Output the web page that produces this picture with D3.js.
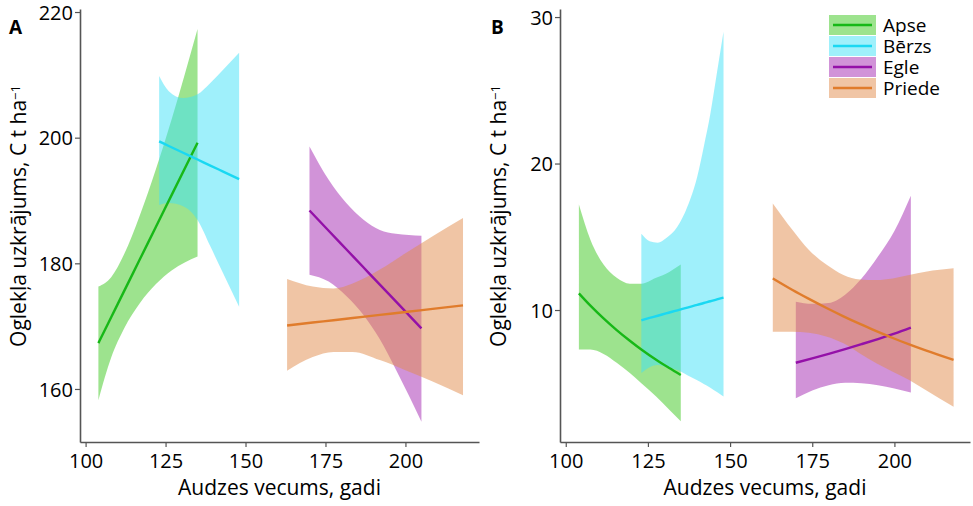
<!DOCTYPE html>
<html><head><meta charset="utf-8">
<script src="https://cdn.jsdelivr.net/npm/d3@7"></script>
<style>
body{margin:0;background:#fff;}
svg{display:block;font-family:"Open Sans",sans-serif;}
</style></head><body>
<svg id="chart" width="973" height="506"></svg>
<script>
const ageTicks = [100,125,150,175,200];
const carbonTicksA = [160,180,200,220];
const carbonTicksB = [10,20,30];
const species = ["Apse","Bērzs","Egle","Priede"];
const lineColors = ["#17b817","#1ad8f2","#9410a8","#e07c2c"];
const fillColors = ["rgba(60,200,30,0.5)","rgba(64,225,248,0.5)","rgba(163,40,177,0.5)","rgba(225,140,75,0.5)"];

// Panel A
const apseA_age = [104,108,112,117,122,127,135];
const apseA_fit = [167.3,171.42,175.53,180.68,185.82,190.97,199.2];
const apseA_lo  = [158.2,165.0,169.6,173.7,176.7,178.9,181.1];
const apseA_hi  = [176.3,177.8,181.4,187.7,195.0,203.1,217.3];

const berzsA_age = [123,126,130.5,135,139,143,148];
const berzsA_fit = [199.4,198.68,197.6,196.52,195.56,194.6,193.4];
const berzsA_lo  = [189.3,189.6,189.1,186.9,182.7,178.4,173.1];
const berzsA_hi  = [209.8,207.4,206.3,206.9,208.7,210.8,213.5];

const egleA_age = [170,176,181.5,187,192,197,205];
const egleA_fit = [188.4,185.19,182.24,179.29,176.61,173.94,169.65];
const egleA_lo  = [178.2,177.1,174.8,171.7,167.9,163.1,154.8];
const egleA_hi  = [198.6,193.3,189.6,186.9,185.3,184.7,184.4];

const priedeA_age = [163,171,177.5,183.5,192,200,208.5,218];
const priedeA_fit = [170.1,170.57,170.94,171.29,171.79,172.25,172.75,173.3];
const priedeA_lo  = [162.9,165.1,165.9,165.9,164.6,163.0,161.2,159.0];
const priedeA_hi  = [177.5,176.3,176.0,176.8,179.0,181.6,184.3,187.2];

// Panel B
const apseB_age = [104,107.5,111.5,115.5,119.5,123,127.5,131.5,135];
const apseB_fit = [11.14,10.3,9.43,8.63,7.9,7.3,6.6,6.04,5.57];
const apseB_lo  = [7.3,7.3,7.0,6.4,5.7,5.0,4.1,3.2,2.4];
const apseB_hi  = [17.2,14.8,13.1,12.2,11.8,11.8,12.2,12.6,13.1];

const berzsB_age = [123,125.5,128,130.5,134,137,140,142,144,146,148];
const berzsB_fit = [9.3,9.46,9.61,9.77,9.98,10.17,10.35,10.48,10.6,10.73,10.85];
const berzsB_lo  = [5.7,6.1,6.25,6.1,5.9,5.55,5.2,4.95,4.7,4.4,4.1];
const berzsB_hi  = [15.2,14.7,14.6,14.9,15.7,17.05,19.1,21.15,23.4,26.2,29.0];

const egleB_age = [170,175,180,185,190,195,200,205];
const egleB_fit = [6.4,6.7,7.01,7.33,7.67,8.02,8.39,8.8];
const egleB_lo  = [3.97,4.5,4.86,5.03,5.0,4.87,4.65,4.37];
const egleB_hi  = [10.57,10.42,10.48,11.05,12.15,13.65,15.4,17.8];

const priedeB_age = [163,169,174,179.5,184.5,189.5,194.5,199.5,204.5,209.5,218];
const priedeB_fit = [12.16,11.37,10.76,10.12,9.57,9.05,8.56,8.09,7.65,7.24,6.59];
const priedeB_lo  = [8.52,8.52,8.45,8.18,7.73,7.04,6.36,5.79,5.22,4.54,3.4];
const priedeB_hi  = [17.28,15.46,14.1,13.07,12.39,12.09,12.05,12.16,12.39,12.62,12.85];

function build(ages, fits, los, his){
  return ages.map((a,i)=>({age:a, fit:fits[i], lo:los[i], hi:his[i]}));
}
const panelAData = [
  build(apseA_age,apseA_fit,apseA_lo,apseA_hi),
  build(berzsA_age,berzsA_fit,berzsA_lo,berzsA_hi),
  build(egleA_age,egleA_fit,egleA_lo,egleA_hi),
  build(priedeA_age,priedeA_fit,priedeA_lo,priedeA_hi)
];
const panelBData = [
  build(apseB_age,apseB_fit,apseB_lo,apseB_hi),
  build(berzsB_age,berzsB_fit,berzsB_lo,berzsB_hi),
  build(egleB_age,egleB_fit,egleB_lo,egleB_hi),
  build(priedeB_age,priedeB_fit,priedeB_lo,priedeB_hi)
];

const svg = d3.select("#chart");
const axisColor = "#555";

function panel(cfg){
  const x = d3.scaleLinear().domain([98.25,223]).range([cfg.x0, cfg.x1]);
  const y = d3.scaleLinear().domain(cfg.ydom).range([442, 9]);
  const g = svg.append("g");

  const area = d3.area().curve(d3.curveMonotoneX)
    .x(d=>x(d.age)).y0(d=>y(d.lo)).y1(d=>y(d.hi));
  const line = d3.line().curve(d3.curveMonotoneX)
    .x(d=>x(d.age)).y(d=>y(d.fit));

  cfg.data.forEach((s,i)=>{
    g.append("path").attr("d", area(s)).attr("fill", fillColors[i]).attr("stroke","none");
  });
  cfg.data.forEach((s,i)=>{
    g.append("path").attr("d", line(s)).attr("fill","none")
      .attr("stroke", lineColors[i]).attr("stroke-width",2.4);
  });

  const xa = g.append("g").attr("transform","translate(0,442)")
    .call(d3.axisBottom(x).tickValues(ageTicks).tickSize(5).tickPadding(7).tickSizeOuter(0));
  const ya = g.append("g").attr("transform",`translate(${cfg.x0},0)`)
    .call(d3.axisLeft(y).tickValues(cfg.yticks).tickSize(5).tickPadding(2).tickSizeOuter(0));
  [xa,ya].forEach(a=>{
    a.select(".domain").attr("stroke",axisColor).attr("stroke-width",1.6);
    a.selectAll(".tick line").attr("stroke",axisColor).attr("stroke-width",1.2);
    a.selectAll(".tick text").attr("fill","#000").style("font-size","20px")
      .style("font-family","'Open Sans',sans-serif");
  });
  xa.selectAll(".tick text").attr("dy","0.71em");
  ya.selectAll(".tick text").attr("dy","0.36em");

  g.append("text").attr("x",(cfg.x0+cfg.x1)/2).attr("y",495)
    .attr("text-anchor","middle").style("font-size","21px").text("Audzes vecums, gadi");
  const yl = g.append("text")
    .attr("transform",`translate(${cfg.ylabX},216) rotate(-90)`)
    .attr("text-anchor","middle").style("font-size","21px");
  yl.append("tspan").text("Oglekļa uzkrājums, C t ha");
  yl.append("tspan").attr("dy","-0.45em").style("font-size","13px").text("−1");

  g.append("text").attr("x",cfg.letterX).attr("y",34).style("font-size","19px")
    .style("font-weight","bold").text(cfg.letter);
}

panel({x0:80, x1:479, ydom:[151.56,220.48], yticks:carbonTicksA, data:panelAData,
       ylabX:26, letter:"A", letterX:9});
panel({x0:560, x1:970, ydom:[0.99,30.55], yticks:carbonTicksB, data:panelBData,
       ylabX:506, letter:"B", letterX:491});

// legend
const leg = svg.append("g").attr("transform","translate(829,15)");
species.forEach((s,i)=>{
  const row = leg.append("g").attr("transform",`translate(0,${i*21})`);
  row.append("rect").attr("width",47).attr("height",20).attr("fill",fillColors[i]);
  row.append("line").attr("x1",4).attr("x2",43).attr("y1",10).attr("y2",10)
    .attr("stroke",lineColors[i]).attr("stroke-width",2.4);
  row.append("text").attr("x",54).attr("y",17).style("font-size","19px").text(s);
});
</script>
</body></html>
